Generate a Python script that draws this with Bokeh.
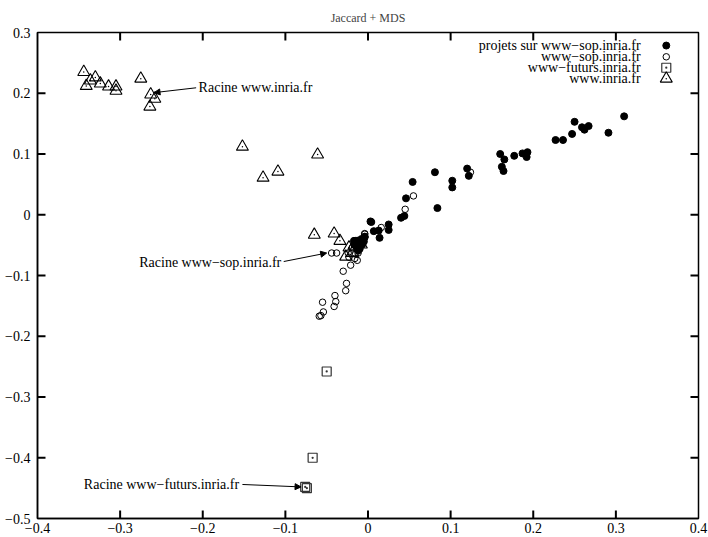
from bokeh.plotting import figure
from bokeh.models import Range1d, FixedTicker, Arrow, NormalHead
from bokeh.core.properties import value
from bokeh.embed import file_html
from bokeh.resources import INLINE

FONT = "Liberation Serif"

# ---- data ----
proj_x = [0.310, 0.291, 0.250, 0.259, 0.262, 0.267, 0.247, 0.236, 0.227, 0.193, 0.192, 0.187,
          0.177, 0.160, 0.165, 0.162, 0.164, 0.120, 0.122, 0.102, 0.102, 0.081, 0.084, 0.054,
          0.046, 0.044, 0.040, 0.004, 0.007, 0.013, 0.014, 0.025, 0.025, -0.004, -0.017,
          -0.015, -0.011, -0.008, -0.013, -0.010, -0.007, -0.005, -0.016, -0.012, -0.004, 0.003]
proj_y = [0.162, 0.135, 0.153, 0.144, 0.140, 0.146, 0.133, 0.123, 0.123, 0.103, 0.095, 0.101,
          0.097, 0.100, 0.091, 0.079, 0.072, 0.076, 0.064, 0.056, 0.045, 0.070, 0.011, 0.054,
          0.027, -0.002, -0.005, -0.012, -0.027, -0.026, -0.038, -0.016, -0.025, -0.036, -0.043,
          -0.043, -0.046, -0.040, -0.053, -0.056, -0.049, -0.044, -0.049, -0.059, -0.037, -0.011]

sop_x = [0.055, 0.045, 0.124, 0.016, -0.004, -0.044, -0.038, -0.030, -0.021, -0.026, -0.027,
         -0.040, -0.039, -0.041, -0.055, -0.054, -0.059, -0.057, -0.013, -0.015, -0.023, -0.019,
         -0.012, -0.024, -0.016, -0.004]
sop_y = [0.031, 0.009, 0.070, -0.021, -0.031, -0.063, -0.063, -0.093, -0.083, -0.113, -0.125,
         -0.133, -0.143, -0.151, -0.144, -0.160, -0.167, -0.166, -0.075, -0.065, -0.070, -0.054,
         -0.063, -0.063, -0.072, -0.032]

fut_x = [-0.050, -0.067, -0.076, -0.074]
fut_y = [-0.258, -0.400, -0.448, -0.450]

www_x = [-0.344, -0.341, -0.336, -0.330, -0.324, -0.314, -0.305, -0.305, -0.275, -0.263, -0.258,
         -0.264, -0.152, -0.127, -0.109, -0.061, -0.065, -0.041, -0.034, -0.027, -0.023, -0.017,
         -0.013, -0.008, -0.019]
www_y = [0.235, 0.212, 0.221, 0.226, 0.216, 0.211, 0.211, 0.204, 0.224, 0.198, 0.191, 0.178,
         0.112, 0.061, 0.071, 0.099, -0.033, -0.031, -0.043, -0.069, -0.054, -0.051, -0.048,
         -0.049, -0.063]

series_names = ["projets sur www\u2212sop.inria.fr", "www\u2212sop.inria.fr",
                "www\u2212futurs.inria.fr", "www.inria.fr"]

x_ticks = [-0.4, -0.3, -0.2, -0.1, 0, 0.1, 0.2, 0.3, 0.4]
x_tick_labels = ["\u22120.4", "\u22120.3", "\u22120.2", "\u22120.1", "0", "0.1", "0.2", "0.3", "0.4"]
y_ticks = [-0.5, -0.4, -0.3, -0.2, -0.1, 0, 0.1, 0.2, 0.3]
y_tick_labels = ["\u22120.5", "\u22120.4", "\u22120.3", "\u22120.2", "\u22120.1", "0", "0.1", "0.2", "0.3"]

# annotations: text, text anchor, arrow start, arrow end
ann_text = ["Racine www.inria.fr", "Racine www\u2212sop.inria.fr", "Racine www\u2212futurs.inria.fr"]
ann_tx = [-0.205, -0.105, -0.156]
ann_ty = [0.209, -0.079, -0.444]
ann_align = ["left", "right", "right"]
arr_x0 = [-0.208, -0.102, -0.152]
arr_y0 = [0.209, -0.077, -0.444]
arr_x1 = [-0.259, -0.050, -0.081]
arr_y1 = [0.201, -0.063, -0.448]

# legend placement (data coords)
leg_text_x = 0.330
leg_mark_x = 0.361
leg_y = [0.2785, 0.260, 0.242, 0.224]

X0, X1, Y0, Y1 = -0.4, 0.4, -0.5, 0.3
W, H = 708, 537
BL, BR, BT, BB = 37, 10, 32, 19
TICK_PX = 8

p = figure(width=W, height=H, output_backend="svg", toolbar_location=None,
           x_range=Range1d(X0, X1), y_range=Range1d(Y0, Y1),
           title="Jaccard + MDS", min_border_left=BL, min_border_right=BR,
           min_border_top=0, min_border_bottom=BB)
p.title.align = "center"
p.title.text_font = FONT
p.title.text_font_size = "12px"
p.title.text_font_style = "normal"
p.title.standoff = 16
p.title.offset = 0

p.grid.visible = False
p.outline_line_color = "black"
p.outline_line_width = 1.5
p.background_fill_color = "white"
p.border_fill_color = "white"

for ax, ticks, labels in ((p.xaxis[0], x_ticks, x_tick_labels), (p.yaxis[0], y_ticks, y_tick_labels)):
    ax.ticker = FixedTicker(ticks=ticks)
    ax.major_label_overrides = {t: l for t, l in zip(ticks, labels)}
    ax.major_tick_in = 0
    ax.major_tick_out = 0
    ax.minor_tick_in = 0
    ax.minor_tick_out = 0
    ax.axis_line_color = "black"
    ax.axis_line_width = 1.5
    ax.major_label_text_font = FONT
    ax.major_label_text_font_size = "14px"
    ax.major_label_text_color = "black"
p.xaxis[0].major_label_standoff = 4
p.yaxis[0].major_label_standoff = 7

# inward ticks on all four sides (gnuplot style), length in pixels converted to data units
dx = TICK_PX * (X1 - X0) / (W - BL - BR)
dy = TICK_PX * (Y1 - Y0) / (H - BT - BB)
inner_x = x_ticks[1:-1]
inner_y = y_ticks[1:-1]
n_x = len(inner_x)
n_y = len(inner_y)
tick_x0 = inner_x + inner_x + [X0] * n_y + [X1] * n_y
tick_x1 = inner_x + inner_x + [X0 + dx] * n_y + [X1 - dx] * n_y
tick_y0 = [Y0] * n_x + [Y1] * n_x + inner_y + inner_y
tick_y1 = [Y0 + dy] * n_x + [Y1 - dy] * n_x + inner_y + inner_y
p.segment(x0=tick_x0, y0=tick_y0, x1=tick_x1, y1=tick_y1, line_color="black", line_width=2)

# series
p.scatter(proj_x, proj_y, marker="circle", size=7, fill_color="black", line_color="black")
p.scatter(sop_x, sop_y, marker="circle", size=6.5, fill_alpha=0, line_color="black", line_width=1)
p.scatter(fut_x, fut_y, marker="square_dot", size=9, fill_alpha=0, line_color="#333333", line_width=1.2)
p.scatter(www_x, www_y, marker="triangle", size=12, fill_alpha=0, line_color="black", line_width=1.1)
p.scatter(www_x, www_y, marker="circle", size=1.5, fill_color="black", line_alpha=0)

# legend
p.text([leg_text_x] * 4, leg_y, text=series_names, text_font=value(FONT), text_font_size="14px",
       text_align="right", text_baseline="middle", text_color="black")
p.scatter([leg_mark_x], [leg_y[0]], marker="circle", size=7, fill_color="black", line_color="black")
p.scatter([leg_mark_x], [leg_y[1]], marker="circle", size=6.5, fill_alpha=0, line_color="black")
p.scatter([leg_mark_x], [leg_y[2]], marker="square_dot", size=9, fill_alpha=0, line_color="#333333", line_width=1.2)
p.scatter([leg_mark_x], [leg_y[3]], marker="triangle", size=12, fill_alpha=0, line_color="black", line_width=1.1)
p.scatter([leg_mark_x], [leg_y[3]], marker="circle", size=1.5, fill_color="black", line_alpha=0)

# annotations
for t, tx, ty, al in zip(ann_text, ann_tx, ann_ty, ann_align):
    p.text([tx], [ty], text=[t], text_font=value(FONT), text_font_size="14px",
           text_align=al, text_baseline="middle", text_color="black")
for x0, y0, x1, y1 in zip(arr_x0, arr_y0, arr_x1, arr_y1):
    p.add_layout(Arrow(end=NormalHead(size=6, fill_color="black", line_color="black"),
                       x_start=x0, y_start=y0, x_end=x1, y_end=y1,
                       line_color="black", line_width=1))

open("out.html", "w").write(file_html(p, INLINE))
